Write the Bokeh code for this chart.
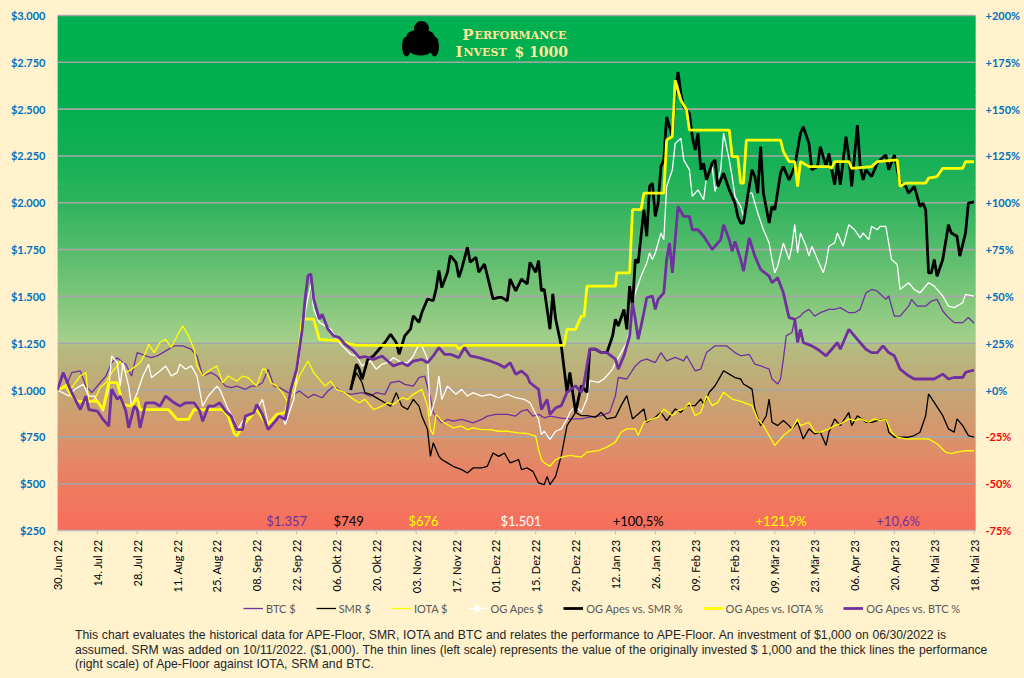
import math
import numpy as np
from bokeh.plotting import figure
from bokeh.models import Range1d, FixedTicker, Label, Legend, LegendItem, Div
from bokeh.layouts import column
from bokeh.core.properties import value
from bokeh.embed import file_html
from bokeh.resources import INLINE

# ---------------- data (days since 30 Jun 2022) ----------------
X_TICK_LABELS = ["30. Jun 22", "14. Jul 22", "28. Jul 22", "11. Aug 22", "25. Aug 22",
                 "08. Sep 22", "22. Sep 22", "06. Okt 22", "20. Okt 22", "03. Nov 22",
                 "17. Nov 22", "01. Dez 22", "15. Dez 22", "29. Dez 22", "12. Jan 23",
                 "26. Jan 23", "09. Feb 23", "23. Feb 23", "09. Mär 23", "23. Mär 23",
                 "06. Apr 23", "20. Apr 23", "04. Mai 23", "18. Mai 23"]
X_TICK_DAYS = [0, 14, 28, 42, 56, 70, 84, 98, 112, 126, 140, 154, 168, 182, 196,
               210, 224, 238, 252, 266, 280, 294, 308, 322]

LEFT_TICKS = [250, 500, 750, 1000, 1250, 1500, 1750, 2000, 2250, 2500, 2750, 3000]
LEFT_TICK_LABELS = ["$250", "$500", "$750", "$1.000", "$1.250", "$1.500", "$1.750",
                    "$2.000", "$2.250", "$2.500", "$2.750", "$3.000"]
RIGHT_TICKS = [-75, -50, -25, 0, 25, 50, 75, 100, 125, 150, 175, 200]
RIGHT_TICK_LABELS = ["-75%", "-50%", "-25%", "+0%", "+25%", "+50%", "+75%", "+100%",
                     "+125%", "+150%", "+175%", "+200%"]

# thin lines, left scale ($)
BTC_DAYS = [0,3,5,8,10,12,15,17,19,21,23,24,26,28,31,33,35,37,41,44,47,49,51,54,56,59,61,63,66,68,
            70,72,74,76,78,81,83,85,88,90,93,95,97,100,103,107,110,112,115,117,120,122,125,127,129,
            131,132,135,137,139,142,144,146,149,151,154,156,158,161,163,165,167,169,171,173,177,180,
            184,187,191,194,196,197,200,203,205,207,210,212,214,217,220,221,224,226,228,231,233,235,
            238,240,243,245,247,250,251,253,254,255,256,258,259,261,262,264,266,268,271,273,275,278,
            280,282,284,286,288,291,292,294,296,299,300,302,305,307,309,311,313,315,318,320,322]
BTC_USD = [1000,1021,1093,1102,1021,986,1039,1075,1146,1173,1146,1138,1075,1200,1182,1173,1182,1200,
           1236,1236,1218,1182,1075,1093,1075,1021,1013,1021,1004,1021,1021,1039,1111,1021,1013,986,
           977,995,959,977,959,995,1021,990,977,986,968,986,977,1039,1048,1030,1021,1066,1075,959,879,
           825,843,834,843,834,825,843,861,870,870,870,861,888,896,861,870,852,861,850,846,846,855,863,
           881,970,1067,1059,1129,1156,1165,1147,1200,1156,1174,1156,1183,1103,1112,1200,1236,1236,1236,
           1200,1183,1191,1138,1129,1112,1059,1032,1059,1165,1289,1307,1378,1395,1413,1431,1395,1413,
           1431,1431,1440,1413,1413,1431,1519,1537,1528,1484,1502,1395,1395,1448,1484,1448,1448,1475,
           1484,1422,1387,1360,1360,1387,1357]

SMR_DAYS = [103,105,107,108,110,113,115,117,119,121,123,125,127,128,130,131,132,134,135,137,139,142,
            144,146,149,151,153,155,157,159,162,163,165,167,169,171,172,173,175,177,179,182,184,186,
            189,191,193,196,198,200,202,204,206,207,210,212,214,217,219,221,224,226,227,229,231,233,
            234,236,238,240,241,244,245,247,249,250,251,253,255,257,258,260,262,264,266,268,270,271,
            273,275,278,279,281,284,286,288,291,292,294,296,299,301,303,305,306,308,311,313,315,316,
            318,320,322]
SMR_USD = [1000,1093,1039,986,977,950,932,914,986,914,896,950,914,861,789,646,718,646,629,611,593,575,
           557,584,584,593,664,646,664,611,629,575,584,566,504,495,539,495,539,651,810,881,863,863,855,
           881,846,855,917,970,846,872,899,828,855,881,837,899,881,917,917,952,926,988,1023,1076,1103,
           1085,1067,1059,1032,1005,899,810,863,952,828,810,837,810,793,828,739,793,766,775,704,775,846,
           810,881,810,863,828,828,837,846,775,748,748,748,757,775,863,979,934,863,793,775,846,810,757,749]

IOTA_DAYS = [0,3,5,8,10,11,13,15,17,19,21,22,24,26,29,31,32,34,36,38,40,42,44,46,48,49,51,53,56,58,
             60,63,65,67,70,72,73,75,77,79,81,83,85,88,90,92,94,96,98,101,104,106,108,111,114,116,118,
             121,123,125,128,130,131,132,133,135,137,139,142,144,146,149,152,155,158,162,165,168,169,
             170,171,173,175,177,180,184,186,190,193,196,198,200,203,204,206,209,211,213,216,218,220,
             222,224,226,228,230,232,234,237,239,241,244,246,248,250,252,254,255,258,260,261,264,266,
             268,271,273,275,278,280,282,285,287,289,291,293,295,298,301,306,309,312,314,316,319,322]
IOTA_USD = [1000,1030,1013,1075,1093,932,950,1013,1039,1093,1129,1155,1093,1111,1146,1200,1245,1200,
            1254,1271,1227,1289,1343,1289,1218,1129,1075,1102,1129,1039,1075,1048,1075,1066,1021,1111,
            1111,1039,1021,986,932,986,1075,1155,1093,1057,1021,1048,1004,986,950,932,950,896,914,932,
            923,959,950,977,1004,914,789,762,870,834,816,798,807,789,798,789,789,780,780,771,768,754,682,
            629,611,593,629,642,651,642,668,677,695,722,775,793,793,757,828,846,855,899,863,890,899,934,
            863,881,970,917,934,988,952,943,934,917,846,810,757,704,739,757,793,846,810,828,775,775,793,
            810,819,846,837,846,828,846,837,846,775,748,739,739,739,713,668,660,668,677,676]

OG_DAYS = [0,4,6,9,11,13,16,18,19,21,22,23,25,26,28,30,32,33,36,38,40,42,43,45,47,49,51,53,56,57,
           60,62,63,65,67,70,72,74,77,79,80,83,85,87,89,90,92,93,96,98,100,103,105,107,110,112,114,116,
           118,121,123,125,127,128,130,131,133,134,135,137,140,142,144,146,149,152,155,158,161,164,166,
           169,170,171,173,175,177,179,180,182,184,186,187,190,192,195,196,198,200,201,202,203,205,207,
           208,209,210,212,213,214,216,217,219,220,222,223,225,227,228,230,231,233,234,236,237,238,240,
           241,243,244,246,248,250,251,252,253,255,257,258,259,260,261,263,264,265,267,269,270,271,273,
           274,276,278,280,282,283,285,286,288,289,291,293,295,296,299,301,303,306,308,311,313,315,318,
           319,322]
OG_USD = [1000,968,1004,1030,968,968,888,1004,1182,1146,1021,1146,1021,914,986,1075,1138,1066,1102,1129,
          1075,1093,1138,1111,1129,1075,914,968,1021,1004,896,843,780,834,861,896,950,825,843,861,816,950,
          1182,1414,1566,1432,1361,1352,1325,1271,1236,1191,1182,1129,1155,1111,1138,1146,1173,1146,1146,
          1182,1245,1236,1164,861,968,1075,950,1021,977,1004,968,986,968,977,959,977,959,950,932,843,762,
          780,736,780,793,846,881,917,881,952,1050,1041,1059,1112,1147,1200,1254,1324,1448,1519,1608,1679,
          1732,1697,1732,1839,1803,2087,2176,2317,2344,2229,2176,2034,2069,2016,2140,2193,2060,2176,2371,
          2229,2140,2034,1980,1927,2051,2051,1945,1856,1785,1697,1626,1661,1785,1697,1768,1883,1732,1839,
          1768,1715,1768,1697,1626,1679,1768,1785,1839,1768,1883,1856,1812,1839,1803,1874,1856,1874,1874,
          1697,1670,1537,1573,1537,1519,1573,1555,1502,1448,1440,1466,1511,1501]

# thick lines, right scale (%)
SMR_PCT_DAYS = [103,105,106,107,109,111,113,115,117,119,120,122,124,125,127,128,130,132,133,134,135,
                137,138,140,141,142,144,145,147,148,150,151,153,155,156,158,159,161,163,165,166,168,
                169,170,171,173,174,175,177,179,180,182,184,186,187,189,191,193,195,196,197,199,200,
                201,202,203,204,206,207,208,209,210,211,212,213,214,216,217,218,219,220,222,223,224,
                225,226,227,228,230,231,232,234,236,237,238,239,240,241,243,244,245,246,247,248,250,
                251,252,254,255,257,259,261,262,264,265,267,268,270,271,272,273,274,275,277,278,279,
                281,282,283,284,286,288,289,291,292,294,295,296,298,299,301,303,304,305,306,307,308,
                309,311,313,314,316,317,319,320,322]
SMR_PCT = [0,13.8,11.1,5.7,16.4,18.2,21.8,25.4,29.8,25.4,19.1,28.9,32.5,39.6,36.1,41.4,48.6,47.7,53.9,
           63.8,54.8,62.9,71.8,68.2,60.2,64.7,76.3,68.2,70.9,62.9,67.3,61.1,48.6,49.5,49.5,47.7,59.3,53.0,
           59.3,56.6,68.2,62.9,69.1,53.0,53.9,32.5,51.3,37.9,23.6,-1.2,9.4,-11.9,2.3,-1.2,21.8,21.8,20.0,
           20.0,28.9,37.8,34.2,43.1,32.4,55.5,44.8,69.7,67.9,96.3,82.1,108.7,110.5,92.7,99.8,119.3,122.9,
           145.9,135.3,158.3,169.9,158.3,151.2,147.7,135.3,128.2,137.1,117.6,121.1,112.2,121.1,122.9,108.7,
           115.8,106.9,103.4,99.8,92.7,89.2,89.2,108.7,117.6,114.0,105.1,130.0,105.1,89.2,98.0,96.3,115.8,
           119.3,112.2,119.3,137.1,140.6,131.7,117.6,119.3,130.0,119.3,126.4,117.6,109.6,121.1,109.6,135.3,
           124.6,108.7,141.5,119.3,112.2,117.6,114.0,121.1,122.9,125.5,117.6,125.5,117.6,110.5,108.7,105.1,
           108.7,98.0,99.8,96.3,62.6,62.6,69.7,60.8,69.7,88.3,83.9,82.1,71.5,83.9,99.8,100.5]

IOTA_PCT_DAYS = [0,3,5,7,14,16,18,21,23,26,28,29,39,42,46,48,58,60,62,63,65,68,70,73,74,77,80,84,86,90,
                 92,99,103,105,140,141,143,178,179,182,184,185,186,196,196.5,201,202,205,206,213,214,216,
                 217,219,221,222,236,237,239,240,241,242,254,255,257,259,260,261,264,271,272,273,278,279,
                 286,288,295,296,298,305,306,309,311,318,319,322]
IOTA_PCT = [0,2,-3,-6,-6,-10.4,4.0,4.0,-7.7,-8.6,-4.1,-10.4,-10.4,-15.7,-15.7,-10.4,-10.4,-13.9,-23.0,
            -24.6,-19.3,-13.9,-10.4,-17.5,-18.4,-13.0,-12.1,9.3,37.9,37.9,27.1,26.3,24.5,23.9,23.9,21.8,
            23.9,23.9,32.4,32.4,39.5,39.5,55.5,55.5,62.6,62.6,96.3,96.3,105.1,105.1,133.5,135.3,165.4,
            154.8,149.5,138.8,138.8,124.6,124.6,110.5,110.5,133.5,133.5,127.3,122.0,122.0,108.7,122.0,
            119.3,119.3,118.4,122.0,122.0,118.4,119.3,122.0,122.9,108.7,110.5,110.5,113.1,114.0,118.4,
            118.4,122.0,121.9]

BTC_PCT_DAYS = [0,2,5,8,10,11,14,16,18,19,21,22,24,25,27,28,29,31,34,36,38,41,43,45,48,50,51,53,55,57,
                59,61,63,65,66,69,70,72,74,76,78,80,82,84,86,87,88,89,90,92,93,95,97,99,101,104,106,108,
                111,114,116,118,121,123,125,128,130,132,134,136,138,141,143,145,148,150,152,155,157,159,
                161,163,165,166,169,170,172,173,175,177,179,182,184,185,187,189,191,193,196,197,199,201,
                202,203,204,206,207,209,210,211,213,214,215,216,217,218,220,222,223,225,227,230,231,233,
                234,236,237,238,240,241,243,245,247,250,251,253,255,257,259,260,261,262,265,267,270,272,
                274,275,278,279,281,284,286,288,290,292,294,296,299,301,303,306,308,311,313,315,318,319,
                321,322]
BTC_PCT = [0,9.3,-1.4,-10.4,-3.2,-10.4,-11.2,-15.7,-19.3,0.4,-5.0,-3.2,-11.2,-20.2,-8.6,-10.4,-20.2,-6.8,
           -6.8,-8.6,-3.2,-6.8,-8.6,-6.8,-6.8,-11.2,-16.6,-8.6,-8.6,-6.8,-11.2,-13.9,-21.1,-21.1,-13.9,
           -12.1,-7.7,-13.0,-21.1,-17.5,-13.9,-15.7,0.4,11.1,32.5,48.6,61.1,62.0,48.6,37.9,40.5,32.5,28.9,
           28.0,24.5,20.9,17.3,17.9,16.4,18.2,15.5,12.9,14.6,12.9,15.5,16.4,14.6,18.2,22.7,19.1,19.1,17.3,
           22.7,18.2,17.3,16.4,15.5,13.8,12.0,14.6,8.4,10.2,7.5,3.9,0.4,-10.4,-5.0,-13.0,-9.5,-8.3,-1.2,
           2.3,-1.2,4.1,21.8,21.8,20.0,20.0,16.5,11.2,18.3,28.9,46.6,37.8,27.1,41.3,49.3,50.2,43.1,48.4,
           51.9,69.7,78.5,62.6,80.3,98.0,92.7,92.7,85.6,85.6,82.1,75.0,76.8,80.3,88.3,80.3,74.1,79.4,69.7,
           63.5,81.2,71.5,64.4,60.8,57.3,59.9,51.9,38.7,37.8,25.4,32.4,25.4,23.6,21.8,18.3,21.8,25.4,21.8,
           32.4,30.7,27.1,21.8,20.0,20.0,23.6,20.0,18.3,11.2,7.6,5.9,5.9,5.9,5.9,8.5,5.9,6.7,6.7,9.4,10.3,
           10.6]

PARAGRAPH = [
    "This chart evaluates the historical data for APE-Floor, SMR, IOTA and BTC and relates the performance to APE-Floor. An investment of $1,000 on 06/30/2022 is",
    "assumed. SRM was added on 10/11/2022. ($1,000). The thin lines (left scale) represents the value of the originally invested $ 1,000 and the thick lines the performance",
    "(right scale) of Ape-Floor against IOTA, SRM and BTC.",
]

# ---------------- styles / geometry ----------------
PURPLE = "#7030A0"
YELLOW = "#FFFF00"
BLACK = "#000000"
WHITE = "#FFFFFF"
CREAM = "#FFF2CC"
AXIS_BLUE = "#0070C0"
NEG_RED = "#FF0000"
TITLE_COL = "#FFE699"
FONT = "Lato"
TITLE_FONT = "DejaVu Serif"

W = 1024
MAIN_H = 596
LEG_H = 24
FRAME_L, FRAME_R, FRAME_T, FRAME_B = 57, 975, 15, 531   # plotted area in pixels
X_END = 322.5
Y0, Y1 = 250, 3000
px_day = (FRAME_R - FRAME_L) / X_END
px_usd = (FRAME_B - FRAME_T) / (Y1 - Y0)
PAD = 8  # pixels of room above / below for edge labels
x_range = Range1d(0, X_END + (W - FRAME_R) / px_day)
y_range = Range1d(Y0 - PAD / px_usd, Y1 + PAD / px_usd)
pct_range = Range1d(-75 - PAD / px_usd / 10, 200 + PAD / px_usd / 10)


def px2x(px):
    return (px - FRAME_L) / px_day


def py2y(py):
    return Y1 - (py - FRAME_T) / px_usd


p = figure(width=W, height=MAIN_H, x_range=x_range, y_range=y_range,
           output_backend="svg", toolbar_location=None,
           min_border_left=FRAME_L, min_border_right=0, min_border_top=FRAME_T - PAD,
           min_border_bottom=MAIN_H - FRAME_B - PAD,
           background_fill_color=CREAM, border_fill_color=CREAM, outline_line_color=None)
p.extra_y_ranges = {"pct": pct_range}

# background gradient (decoration)
stop_v = [250, 500, 750, 1000, 1240, 1255, 1500, 1750, 2000, 2250, 2500, 3000]
stop_c = [(248, 110, 92), (238, 125, 98), (216, 148, 108), (196, 168, 118), (180, 188, 128),
          (166, 208, 140), (126, 198, 122), (86, 188, 108), (48, 180, 94), (20, 176, 86),
          (4, 175, 81), (0, 176, 80)]
edges = np.linspace(Y0, Y1, 221)
mids = (edges[:-1] + edges[1:]) / 2
chans = [np.interp(mids, stop_v, [c[i] for c in stop_c]) for i in range(3)]
grad_cols = ["#%02x%02x%02x" % (int(r), int(g), int(b)) for r, g, b in zip(*chans)]
p.quad(left=0, right=X_END, bottom=edges[:-1], top=np.minimum(edges[1:] + 8, Y1),
       fill_color=grad_cols, line_color=None, level="image")

# horizontal grid lines limited to the plotted area
p.xgrid.visible = False
p.ygrid.visible = False
p.segment(x0=[0] * len(LEFT_TICKS), x1=[X_END] * len(LEFT_TICKS), y0=LEFT_TICKS, y1=LEFT_TICKS,
          line_color="#A6A6A6", line_width=1.6, level="underlay")
# x axis line and tick marks
p.segment(x0=[0], x1=[X_END], y0=[Y0], y1=[Y0], line_color="#BFBFBF", line_width=1, level="underlay")
p.segment(x0=X_TICK_DAYS, x1=X_TICK_DAYS, y0=[Y0] * len(X_TICK_DAYS),
          y1=[Y0 - 4 / px_usd] * len(X_TICK_DAYS), line_color="#BFBFBF", line_width=1,
          level="underlay")

# axes
p.xaxis.ticker = FixedTicker(ticks=X_TICK_DAYS)
p.xaxis.major_label_overrides = {d: l for d, l in zip(X_TICK_DAYS, X_TICK_LABELS)}
p.xaxis.major_label_orientation = math.pi / 2
p.xaxis.major_label_text_font = FONT
p.xaxis.major_label_text_font_size = "11px"
p.xaxis.major_label_text_color = "#000000"
p.xaxis.axis_line_color = None
p.xaxis.major_tick_line_color = None
p.xaxis.minor_tick_line_color = None
p.xaxis.major_tick_out = 0
p.xaxis.major_label_standoff = 1

p.yaxis.ticker = FixedTicker(ticks=LEFT_TICKS)
p.yaxis.major_label_overrides = {t: l for t, l in zip(LEFT_TICKS, LEFT_TICK_LABELS)}
p.yaxis.axis_line_color = None
p.yaxis.major_tick_line_color = None
p.yaxis.minor_tick_line_color = None
p.yaxis.major_tick_out = 0
p.yaxis.major_label_text_color = AXIS_BLUE
p.yaxis.major_label_text_font = FONT
p.yaxis.major_label_text_font_style = "bold"
p.yaxis.major_label_text_font_size = "11px"
p.yaxis.major_label_standoff = 12

# right-hand percentage scale (blue positive, red negative)
p.text(x=[X_END + 10 / px_day] * len(RIGHT_TICKS), y=RIGHT_TICKS, y_range_name="pct",
       text=RIGHT_TICK_LABELS,
       text_color=[NEG_RED if l.startswith("-") else AXIS_BLUE for l in RIGHT_TICK_LABELS],
       text_align="left", text_baseline="middle", text_font=value(FONT),
       text_font_style="bold", text_font_size="11px")

# series
TH, TK = 1.3, 2.8
r_btc = p.line(BTC_DAYS, BTC_USD, line_color=PURPLE, line_width=TH)
r_smr = p.line(SMR_DAYS, SMR_USD, line_color=BLACK, line_width=TH)
r_iota = p.line(IOTA_DAYS, IOTA_USD, line_color=YELLOW, line_width=TH)
r_og = p.line(OG_DAYS, OG_USD, line_color=WHITE, line_width=TH)
r_smr_p = p.line(SMR_PCT_DAYS, SMR_PCT, line_color=BLACK, line_width=TK, y_range_name="pct")
r_iota_p = p.line(IOTA_PCT_DAYS, IOTA_PCT, line_color=YELLOW, line_width=TK, y_range_name="pct")
r_btc_p = p.line(BTC_PCT_DAYS, BTC_PCT, line_color=PURPLE, line_width=TK, y_range_name="pct")

# final values row
def fmt_usd(v):
    return "$" + f"{v:,.0f}".replace(",", ".")

def fmt_pct(v):
    return ("+" if v >= 0 else "") + f"{v:.1f}".replace(".", ",") + "%"

final_text = [fmt_usd(BTC_USD[-1]), fmt_usd(SMR_USD[-1]), fmt_usd(IOTA_USD[-1]), fmt_usd(OG_USD[-1]),
              fmt_pct(SMR_PCT[-1]), fmt_pct(IOTA_PCT[-1]), fmt_pct(BTC_PCT[-1])]
final_col = [PURPLE, BLACK, YELLOW, WHITE, BLACK, YELLOW, PURPLE]
final_x = [80.5, 102.3, 128.6, 162.8, 204.0, 254.2, 295.3]
p.text(x=final_x, y=[300] * 7, text=final_text, text_color=final_col, text_align="center",
       text_baseline="middle", text_font=value(FONT), text_font_size="13px")

# title in small capitals (large initial, smaller remaining capitals)
def title_piece(px, py, txt, size, align):
    p.add_layout(Label(x=px2x(px), y=py2y(py), text=txt, text_align=align,
                       text_baseline="alphabetic", text_color=TITLE_COL, text_font=TITLE_FONT,
                       text_font_style="bold", text_font_size=size))

title_piece(473, 35, "P", "15px", "right")
title_piece(474, 35, "ERFORMANCE", "11px", "left")
title_piece(462, 52, "I", "15px", "right")
title_piece(463, 52, "NVEST", "11px", "left")
title_piece(514, 52, "$ 1000", "14px", "left")

# gorilla-like emblem next to the title (decoration)
p.ellipse(x=[px2x(v) for v in (420, 420, 421, 406, 434)],
          y=[py2y(v) for v in (44, 36, 28, 46, 46)],
          width=[30, 28, 15, 9, 9], height=[22, 14, 15, 20, 20],
          width_units="screen", height_units="screen", fill_color=BLACK, line_color=None)

# ---------------- legend strip ----------------
lg = figure(width=W, height=LEG_H, x_range=Range1d(0, 1), y_range=Range1d(0, 1),
            output_backend="svg", toolbar_location=None, x_axis_type=None, y_axis_type=None,
            min_border=0, background_fill_color=CREAM, border_fill_color=CREAM,
            outline_line_color=None)
lg.grid.visible = False
OFF_X, OFF_Y = [5, 6], [5, 5]   # keeps the legend-only glyphs outside the strip's view
l_btc = lg.line(OFF_X, OFF_Y, line_color=PURPLE, line_width=TH)
l_smr = lg.line(OFF_X, OFF_Y, line_color=BLACK, line_width=TH)
l_iota = lg.line(OFF_X, OFF_Y, line_color=YELLOW, line_width=TH)
l_og = lg.line(OFF_X, OFF_Y, line_color=WHITE, line_width=TH)
l_og_dot = lg.scatter(OFF_X[:1], OFF_Y[:1], marker="circle", size=6, fill_color=WHITE,
                      line_color=WHITE)
l_smr_p = lg.line(OFF_X, OFF_Y, line_color=BLACK, line_width=TK)
l_iota_p = lg.line(OFF_X, OFF_Y, line_color=YELLOW, line_width=TK)
l_btc_p = lg.line(OFF_X, OFF_Y, line_color=PURPLE, line_width=TK)
legend = Legend(items=[
    LegendItem(label="BTC $", renderers=[l_btc]),
    LegendItem(label="SMR $", renderers=[l_smr]),
    LegendItem(label="IOTA $", renderers=[l_iota]),
    LegendItem(label="OG Apes $", renderers=[l_og, l_og_dot]),
    LegendItem(label="OG Apes vs. SMR %", renderers=[l_smr_p]),
    LegendItem(label="OG Apes vs. IOTA %", renderers=[l_iota_p]),
    LegendItem(label="OG Apes vs. BTC %", renderers=[l_btc_p]),
], orientation="horizontal", location=(186, 5), label_text_font=FONT, label_text_font_size="11px",
    label_text_color="#595959", glyph_width=20, glyph_height=14, label_standoff=3, spacing=20,
    padding=0, margin=0, background_fill_alpha=0, border_line_color=None)
lg.add_layout(legend)

para = Div(text='<div style="padding:3px 0 0 70px;font-family:\'Liberation Sans\',Arial,sans-serif;'
                'font-size:12.2px;line-height:14.5px;color:#262626;word-spacing:0.4px;'
                'white-space:nowrap;">' + "<br>".join(PARAGRAPH) + "</div>",
           width=W, height=678 - MAIN_H - LEG_H, styles={"background-color": CREAM})

page = column(p, lg, para, spacing=0, styles={"background-color": CREAM})
html = file_html(page, INLINE)
html = html.replace("<head>", "<head><style>body{background:#FFF2CC;}</style>", 1)
open("out.html", "w").write(html)
